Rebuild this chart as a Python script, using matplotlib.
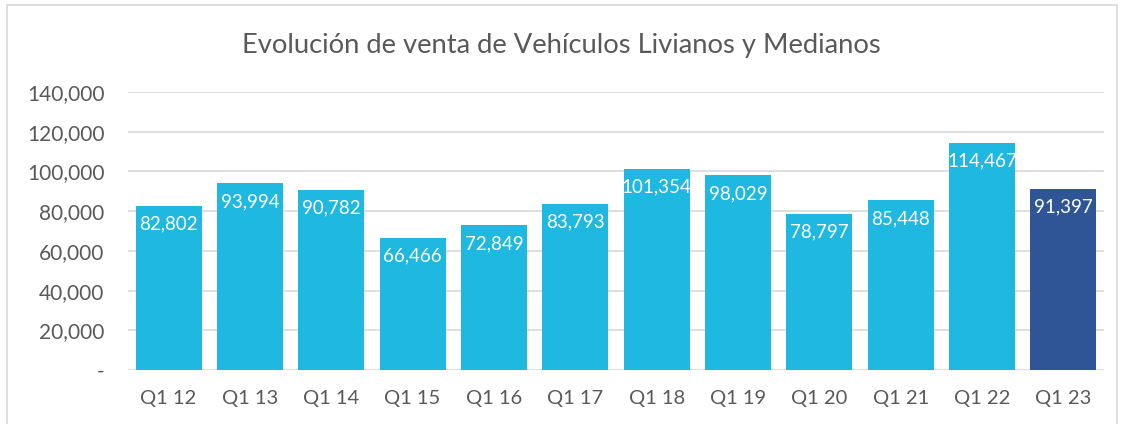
import matplotlib.pyplot as plt
from matplotlib.patches import Rectangle

labels = ["Q1 12", "Q1 13", "Q1 14", "Q1 15", "Q1 16", "Q1 17",
          "Q1 18", "Q1 19", "Q1 20", "Q1 21", "Q1 22", "Q1 23"]
ventas = [82802, 93994, 90782, 66466, 72849, 83793,
          101354, 98029, 78797, 85448, 114467, 91397]
colores = ["#1FB8E1"] * 11 + ["#2F5597"]

plt.rcParams['font.family'] = ['Lato', 'DejaVu Sans']

fig = plt.figure(figsize=(11.22, 4.24), dpi=100)
ax = fig.add_axes([0.114, 0.127, 0.870, 0.656])

x = range(len(labels))
bars = ax.bar(x, ventas, width=0.81, color=colores, zorder=2)

for b, v in zip(bars, ventas):
    ax.annotate(f"{v:,}", (b.get_x() + b.get_width() / 2, v),
                xytext=(0, -7), textcoords="offset points",
                ha="center", va="top", color="white", fontsize=13.5)

ax.set_ylim(0, 140000)
ax.set_xlim(-0.5, len(labels) - 0.5)
ticks = list(range(0, 140001, 20000))
ax.set_yticks(ticks)
ax.set_yticklabels(["-"] + [f"{t:,}" for t in ticks[1:]])
ax.set_xticks(list(x))
ax.set_xticklabels(labels)
ax.tick_params(length=0, labelsize=14.5, colors="#595959")
ax.tick_params(axis="y", labelsize=15, pad=17)
ax.tick_params(axis="x", pad=14)
ax.grid(axis="y", color="#D9D9D9", linewidth=1.2, zorder=0)
for s in ax.spines.values():
    s.set_visible(False)

fig.text(0.5, 0.893, "Evolución de venta de Vehículos Livianos y Medianos",
         ha="center", va="center", fontsize=19.7, color="#595959")

fig.patches.append(Rectangle((7 / 1122, -0.01), 1110 / 1122, 1 - 5 / 424 + 0.01,
                             transform=fig.transFigure, fill=False,
                             edgecolor="#D9D9D9", linewidth=1.2))

fig.savefig("out.png", dpi=100)
